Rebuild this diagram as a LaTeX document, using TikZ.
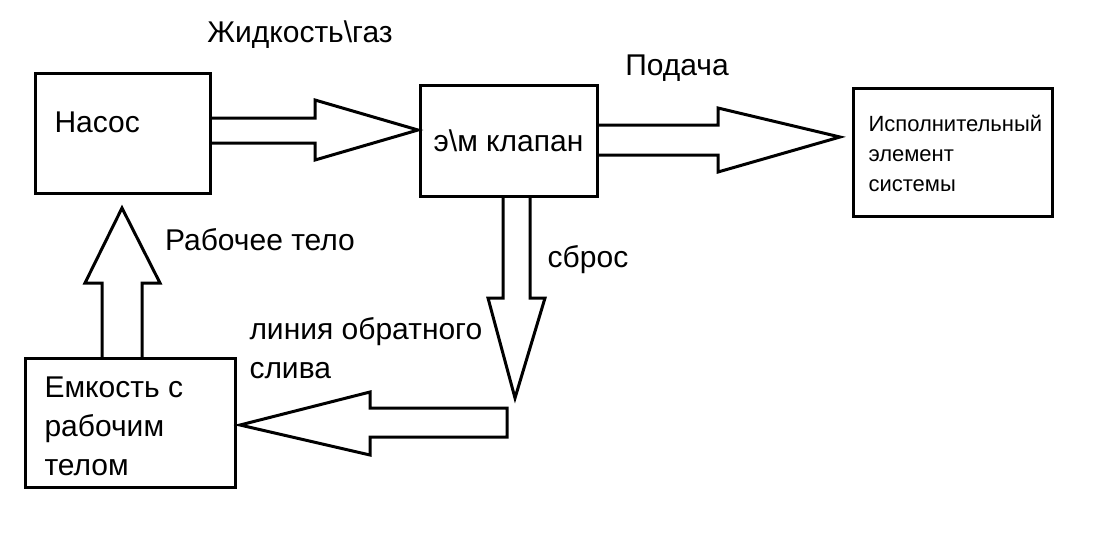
\documentclass[tikz,border=0pt]{standalone}
\usepackage{fontspec}
\setmainfont{Liberation Sans}
\usetikzlibrary{positioning}

\begin{document}
\begin{tikzpicture}[x=0.5pt, y=-0.5pt, line width=1.5pt]
    \tikzstyle{block} = [rectangle, draw, line width=1.5pt, inner sep=0pt]
    \tikzstyle{txt} = [font=\fontsize{15}{19.5}\selectfont, inner sep=0pt, align=left]
    \tikzstyle{small} = [font=\fontsize{11}{15}\selectfont, inner sep=0pt, align=left]
    \tikzstyle{bigarrow} = [draw, line width=1.5pt, line join=miter]

    \useasboundingbox (0,0) rectangle (1097,553);

    % boxes
    \node[block, minimum width=87.5pt, minimum height=60pt] (pump) at (122.5,133) {};
    \node[block, minimum width=88.5pt, minimum height=55.5pt] (valve) at (508.5,140.5) {};
    \node[block, minimum width=99.5pt, minimum height=64pt] (actuator) at (952.5,152) {};
    \node[block, minimum width=105pt, minimum height=64.5pt] (tank) at (130,422.5) {};

    \node[txt, anchor=west] (pumptext) at (53,122) {Насос};
    \node[txt] (valvetext) at (valve) {э\textbackslash м клапан};
    \node[small, anchor=west] (acttext) at (867,153) {Исполнительный\\элемент\\системы};
    \node[txt, anchor=west] (tanktext) at (43,426) {Емкость с\\рабочим\\телом};

    % labels
    \node[txt] (fluid) at (300,35) {Жидкость\textbackslash газ};
    \node[txt] (supply) at (677,68) {Подача};
    \node[txt] (body) at (260,240) {Рабочее тело};
    \node[txt] (dump) at (588,260) {сброс};
    \node[txt, anchor=north west] (returnline) at (248,316) {линия обратного\\слива};

    % block arrows
    \draw[bigarrow] (210,118) -- (315,118) -- (315,100) -- (418,130) -- (315,160) -- (315,143) -- (210,143);
    \draw[bigarrow] (597,125) -- (718,125) -- (718,108) -- (840,137) -- (718,172) -- (718,155) -- (597,155);
    \draw[bigarrow] (503,197) -- (503,298) -- (488,298) -- (515,398) -- (545,298) -- (530,298) -- (530,197);
    \draw[bigarrow] (507,437) -- (370,437) -- (370,455) -- (240,425) -- (370,392) -- (370,408) -- (507,408) -- cycle;
    \draw[bigarrow] (102,358) -- (102,283) -- (85,283) -- (122,208) -- (160,283) -- (142,283) -- (142,358);
\end{tikzpicture}
\end{document}
